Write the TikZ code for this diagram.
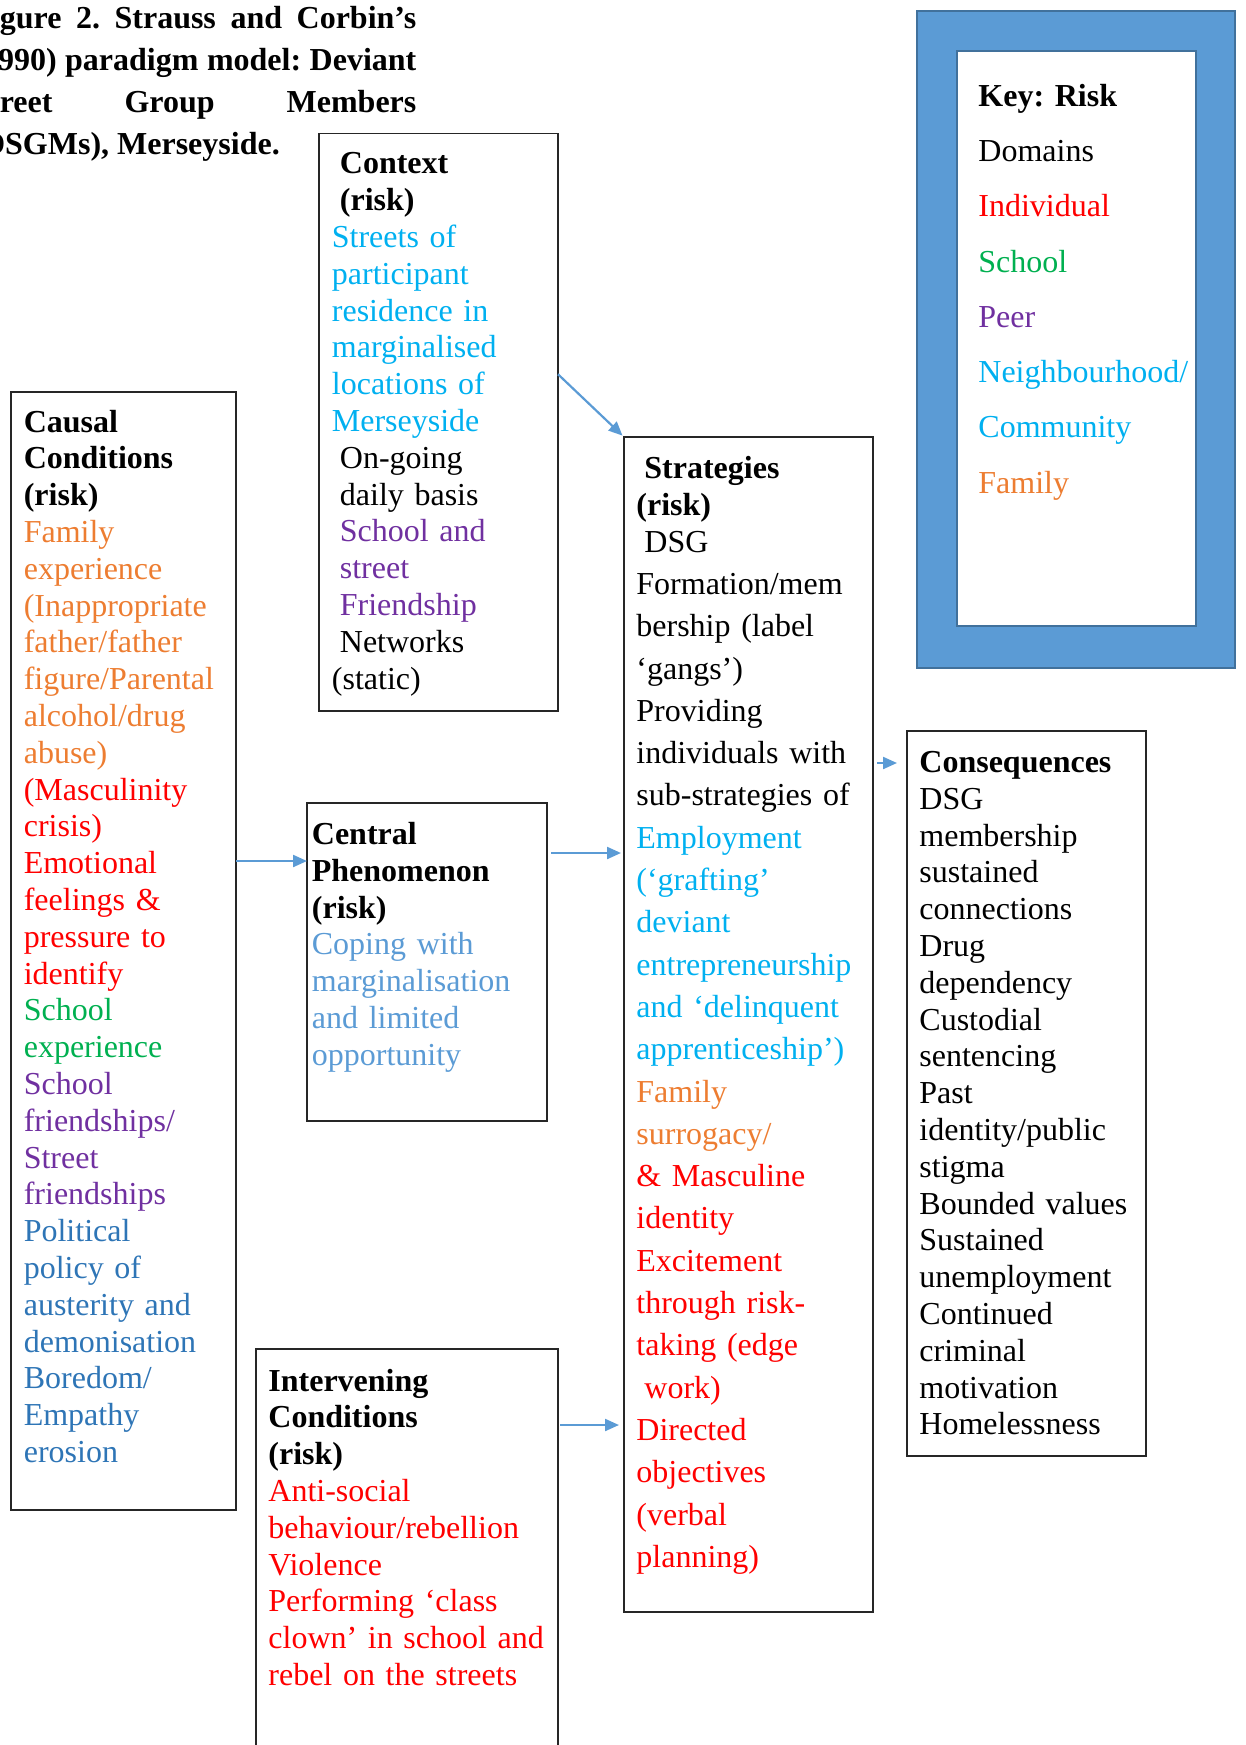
\documentclass[tikz,border=0pt]{standalone}
\usepackage{fontspec}
\setmainfont{Liberation Serif}
\usepackage{tikz}
\usetikzlibrary{arrows.meta}
\definecolor{famorange}{HTML}{ED7D31}
\definecolor{indred}{HTML}{FF0000}
\definecolor{schgreen}{HTML}{00B050}
\definecolor{peerpurple}{HTML}{7030A0}
\definecolor{commcyan}{HTML}{00B0F0}
\definecolor{polblue}{HTML}{2E75B6}
\definecolor{lightblue}{HTML}{5B9BD5}
\definecolor{keyedge}{HTML}{41719C}
\newcommand{\ind}{\hspace*{0.25em}}
\newcommand{\topstrut}{\rule{0pt}{12pt}}
\frenchspacing

\begin{document}
\begin{tikzpicture}[x=0.5pt,y=-0.5pt,
    box/.style={draw=black!85,line width=0.7pt,anchor=north west,inner sep=0pt,outer sep=0pt},
    txt/.style={anchor=north west,inner sep=0pt,text width=160pt,align=left,font=\fontsize{16}{18.4}\selectfont},
    flow/.style={draw=lightblue,line width=1.1pt,-{Triangle[length=7pt,width=6pt]}}]
    \useasboundingbox (0,0) rectangle (1246,1745);
    \clip (0,0) rectangle (1246,1745);
    \node[txt,text width=222.5pt,align=justify,font=\bfseries\fontsize{16}{21}\selectfont] (Ttl) at (-29,4) {\topstrut Figure 2. Strauss and Corbin's\linebreak (1990) paradigm model: Deviant\linebreak Street Group Members\linebreak (DSGMs), Merseyside.};
    \node[box,minimum width=119.5pt,minimum height=288.75pt] (Ctx) at (319,133.5) {};
    \node[box,minimum width=112.5pt,minimum height=559pt] (Cau) at (11,392) {};
    \node[box,minimum width=120pt,minimum height=159pt] (Cen) at (307,803) {};
    \node[box,minimum width=151pt,minimum height=225.5pt] (Int) at (256,1349) {};
    \node[box,minimum width=124.5pt,minimum height=587.5pt] (Str) at (624,437) {};
    \node[box,minimum width=119.5pt,minimum height=362.5pt] (Con) at (907,731) {};
    \node[box,draw=keyedge,fill=lightblue,line width=1.2pt,minimum width=159pt,minimum height=328.5pt] (KeyO) at (917,11) {};
    \node[box,draw=keyedge,fill=white,line width=1.2pt,minimum width=119.5pt,minimum height=287.5pt] (KeyI) at (957,51) {};
    \node[txt] (CtxT) at (331.5,149.5) {\topstrut\ind\textbf{Context}\\ \ind\textbf{(risk)}\\
        {\color{commcyan}Streets of\\ participant\\ residence in\\ marginalised\\ locations of\\ Merseyside}\\
        \ind On-going\\ \ind daily basis\\
        {\color{peerpurple}\ind School and\\ \ind street\\ \ind Friendship}\\
        \ind Networks\\ (static)};
    \node[txt] (CauT) at (23.4,407.6) {\topstrut\textbf{Causal}\\ \textbf{Conditions}\\ \textbf{(risk)}\\
        {\color{famorange}Family\\ experience\\ (Inappropriate\\ father/father\\ figure/Parental\\ alcohol/drug\\ abuse)}\\
        {\color{indred}(Masculinity\\ crisis)\\ Emotional\\ feelings \&\\ pressure to\\ identify}\\
        {\color{schgreen}School\\ experience}\\
        {\color{peerpurple}School\\ friendships/\\ Street\\ friendships}\\
        {\color{polblue}Political\\ policy of\\ austerity and\\ demonisation\\ Boredom/\\ Empathy\\ erosion}};
    \node[txt] (CenT) at (311.5,820) {\topstrut\textbf{Central}\\ \textbf{Phenomenon}\\ \textbf{(risk)}\\
        {\color{lightblue}Coping with\\ marginalisation\\ and limited\\ opportunity}};
    \node[txt] (IntT) at (268,1366.6) {\topstrut\textbf{Intervening}\\ \textbf{Conditions}\\ \textbf{(risk)}\\
        {\color{indred}Anti-social\\ behaviour/rebellion\\ Violence\\ Performing `class\\ clown' in school and\\ rebel on the streets}};
    \node[txt] (StrH) at (636,454) {\topstrut\ind\textbf{Strategies}\\ \textbf{(risk)}\\ \ind DSG};
    \node[txt,font=\fontsize{16}{21.15}\selectfont] (StrB) at (636,570) {\topstrut Formation/mem\\ bership (label\\ `gangs')\\ Providing\\ individuals with\\ sub-strategies of\\
        {\color{commcyan}Employment\\ (`grafting'\\ deviant\\ entrepreneurship\\ and `delinquent\\ apprenticeship')}\\
        {\color{famorange}Family\\ surrogacy/}\\
        {\color{indred}\& Masculine\\ identity\\ Excitement\\ through risk-\\ taking (edge\\ \ind work)\\ Directed\\ objectives\\ (verbal\\ planning)}};
    \node[txt] (ConT) at (919,748) {\topstrut\textbf{Consequences}\\ DSG\\ membership\\ sustained\\ connections\\ Drug\\ dependency\\ Custodial\\ sentencing\\ Past\\ identity/public\\ stigma\\ Bounded values\\ Sustained\\ unemployment\\ Continued\\ criminal\\ motivation\\ Homelessness};
    \node[txt,font=\fontsize{16}{27.65}\selectfont] (KeyT) at (978,81.7) {\topstrut\textbf{Key: Risk}\\ Domains\\ \textcolor{indred}{Individual}\\ \textcolor{schgreen}{School}\\ \textcolor{peerpurple}{Peer}\\ {\color{commcyan}Neighbourhood/\\ Community}\\ \textcolor{famorange}{Family}};
    \coordinate (A1) at ([yshift=24pt]Ctx.east);
    \coordinate (A2) at ([yshift=-29pt]Cen.north west);
    \coordinate (A3) at ([yshift=-25pt]Cen.north east);
    \coordinate (A4) at ([yshift=-38pt]Int.north east);
    \coordinate (A5) at ([yshift=-16pt]Con.north west);
    \draw[flow,shorten >=1pt] (A1) -- (Str.north west);
    \draw[flow] (A2 -| Cau.east) -- (A2);
    \draw[flow,shorten <=2pt,shorten >=1.5pt] (A3) -- (A3 -| Str.west);
    \draw[flow,shorten <=1pt,shorten >=2.5pt] (A4) -- (A4 -| Str.west);
    \draw[flow,shorten <=2pt,shorten >=5pt] (A5 -| Str.east) -- (A5);
\end{tikzpicture}
\end{document}
